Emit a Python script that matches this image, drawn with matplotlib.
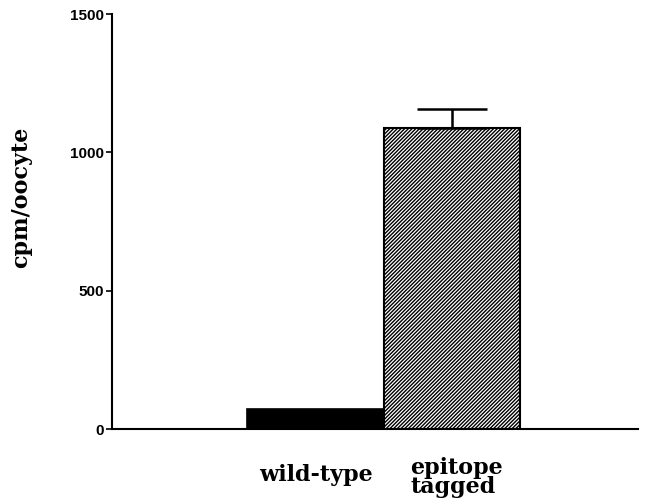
import matplotlib.pyplot as plt

categories = ['wild-type', 'epitope\ntagged']
values = [72, 1088]
err_up = [0, 70]
yticks = [0, 500, 1000, 1500]

fig = plt.figure(figsize=(6.54, 5.01), dpi=100)
ax = fig.add_axes([0.1713, 0.1437, 0.8042, 0.8283])

x = [0, 1]
plt.rcParams['hatch.linewidth'] = 1.0
ax.bar(x[0], values[0], width=1.0, color='black', edgecolor='black', lw=1.2)
ax.bar(x[1], values[1], width=1.0, color='white', edgecolor='black', lw=1.5,
       hatch='/' * 9)
ax.errorbar(x[1], values[1], yerr=[[0], [err_up[1]]], fmt='none',
            ecolor='black', elinewidth=1.8, capsize=25, capthick=1.8)

ax.set_xlim(-1.49, 2.36)
ax.set_ylim(0, 1500)
ax.set_yticks(yticks)
ax.set_yticklabels([str(t) for t in yticks], fontsize=11, fontweight='bold',
                   family='Liberation Sans')
ax.set_xticks([])
ax.tick_params(axis='y', direction='out', length=4, width=1.2, pad=2)
for s in ['top', 'right']:
    ax.spines[s].set_visible(False)
ax.spines['left'].set_linewidth(1.5)
ax.spines['bottom'].set_linewidth(1.5)

# y label placed by hand, centred on the left margin
fig.text(21 / 654, 1 - 197 / 501, 'cpm/oocyte', rotation=90, ha='center',
         va='center', fontsize=16, fontweight='bold', family='DejaVu Serif')

ax.text(x[0], -166, categories[0], ha='center', va='center',
        fontsize=16, fontweight='bold', family='DejaVu Serif')
ax.text(x[1] - 0.307, -176, categories[1], ha='left', va='center',
        fontsize=16, fontweight='bold', family='DejaVu Serif', linespacing=0.85)

fig.savefig('out.png', dpi=100)
